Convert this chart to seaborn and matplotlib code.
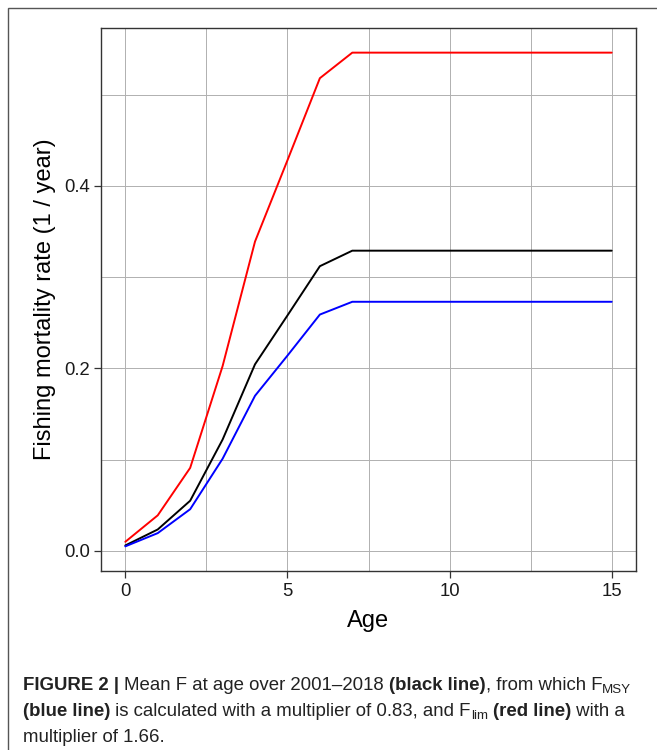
import numpy as np
import pandas as pd
import matplotlib
matplotlib.use("Agg")
import matplotlib.pyplot as plt
import matplotlib.transforms as mtransforms
from matplotlib.patches import Rectangle
import seaborn as sns

# values
ages = list(range(16))
f_mean = [0.006, 0.0235, 0.055, 0.122, 0.2045, 0.258, 0.312, 0.329,
          0.329, 0.329, 0.329, 0.329, 0.329, 0.329, 0.329, 0.329]
f_msy = [0.005, 0.0195, 0.0457, 0.101, 0.170, 0.214, 0.259, 0.273,
         0.273, 0.273, 0.273, 0.273, 0.273, 0.273, 0.273, 0.273]
f_lim = [0.010, 0.039, 0.091, 0.2025, 0.339, 0.428, 0.518, 0.546,
         0.546, 0.546, 0.546, 0.546, 0.546, 0.546, 0.546, 0.546]
series_names = ["Fmean", "Fmsy", "Flim"]
series_colors = {"Fmean": "black", "Fmsy": "#0000FF", "Flim": "#FF0000"}
x_ticks = [0, 5, 10, 15]
y_ticks = [0.0, 0.2, 0.4]
y_tick_labels = ["0.0", "0.2", "0.4"]

df = pd.concat([
    pd.DataFrame({"age": ages, "F": vals, "series": name})
    for name, vals in zip(series_names, [f_mean, f_msy, f_lim])
])

sns.set_theme(style="white")
plt.rcParams["font.family"] = ["Liberation Sans", "DejaVu Sans"]

W, H = 657, 750
fig = plt.figure(figsize=(W / 100, H / 100), dpi=100)
ax = fig.add_axes([101 / W, 1 - 571 / H, (636 - 101) / W, (571 - 28) / H])

sns.lineplot(data=df, x="age", y="F", hue="series", palette=series_colors,
             hue_order=series_names, legend=False, sort=False, lw=1.4, ax=ax)

ax.set_xlim(-0.75, 15.75)
ax.set_ylim(-0.022, 0.573)
ax.set_xticks(x_ticks)
ax.set_xticklabels([str(t) for t in x_ticks])
ax.set_yticks(y_ticks)
ax.set_yticklabels(y_tick_labels)
ax.set_xticks([2.5, 7.5, 12.5], minor=True)
ax.set_yticks([0.1, 0.3, 0.5], minor=True)
ax.grid(True, which="both", color="#b0b0b0", lw=0.7)
ax.set_axisbelow(True)
ax.tick_params(which="major", direction="out", length=5, width=0.9,
               color="#333333", labelsize=13.3, labelcolor="#1a1a1a",
               bottom=True, left=True, pad=3)
ax.tick_params(axis="x", which="major", pad=3.5)
ax.tick_params(which="minor", length=0)
for sp in ax.spines.values():
    sp.set_color("#333333")
    sp.set_linewidth(1.0)

ax.set_xlabel("Age", fontsize=17, color="black", labelpad=7)
ax.set_ylabel("Fishing mortality rate (1 / year)", fontsize=17, color="black", labelpad=6)

# outer frame of the figure box
fig.patches.append(Rectangle((8 / W, -0.05), 1.1, 1 - 8 / H + 0.05,
                             transform=fig.transFigure, fill=False,
                             edgecolor="#555555", lw=1.0))

# caption with mixed bold / subscripts, laid out piece by piece in pixels
fig.canvas.draw()
renderer = fig.canvas.get_renderer()
px = mtransforms.IdentityTransform()
cap_size = 13.4


def seg_width(txt, weight, size):
    t1 = fig.text(0, 0, txt + "x", fontsize=size, weight=weight, transform=px)
    t2 = fig.text(0, 0, "x", fontsize=size, weight=weight, transform=px)
    w = t1.get_window_extent(renderer).width - t2.get_window_extent(renderer).width
    t1.remove()
    t2.remove()
    return w


def caption_line(x, y, segs):
    for txt, weight, sub in segs:
        size = cap_size * 0.72 if sub else cap_size
        yy = y - 3 if sub else y
        fig.text(x, yy, txt, fontsize=size, weight=weight, color="#222222",
                 va="baseline", ha="left", transform=px)
        x += seg_width(txt, weight, size)


caption_line(23, H - 690, [("FIGURE 2 | ", "bold", False),
                           ("Mean F at age over 2001\u20132018 ", "normal", False),
                           ("(black line)", "bold", False),
                           (", from which F", "normal", False),
                           ("MSY", "normal", True)])
caption_line(23, H - 716, [("(blue line)", "bold", False),
                           (" is calculated with a multiplier of 0.83, and F", "normal", False),
                           ("lim", "normal", True),
                           (" ", "normal", False),
                           ("(red line)", "bold", False),
                           (" with a", "normal", False)])
caption_line(23, H - 742, [("multiplier of 1.66.", "normal", False)])

fig.savefig("out.png", dpi=100)
